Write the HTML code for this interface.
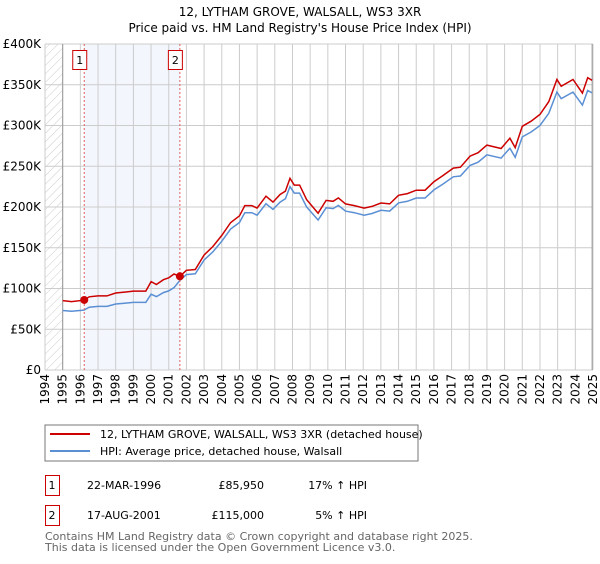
<!DOCTYPE html>
<html><head><meta charset="utf-8"><style>
body{margin:0;background:#fff;font-family:"DejaVu Sans","Liberation Sans",sans-serif;}
svg text{font-family:"DejaVu Sans","Liberation Sans",sans-serif;}
</style></head><body>
<svg id="c" width="600" height="560" xmlns="http://www.w3.org/2000/svg">
<defs><pattern id="h" width="6" height="6" patternUnits="userSpaceOnUse" patternTransform="rotate(45)"><line x1="0" y1="0" x2="0" y2="6" stroke="#ccc" stroke-width="1"/></pattern></defs>
<text x="300" y="16" text-anchor="middle" font-size="12">12, LYTHAM GROVE, WALSALL, WS3 3XR</text>
<text x="300" y="32" text-anchor="middle" font-size="12">Price paid vs. HM Land Registry's House Price Index (HPI)</text>
<g id="plot"></g>
<rect x="45" y="425" width="373" height="36" fill="#fff" stroke="#777"/>
<line x1="50" y1="434" x2="90" y2="434" stroke="#cc0000" stroke-width="2"/>
<text x="100" y="438" font-size="11">12, LYTHAM GROVE, WALSALL, WS3 3XR (detached house)</text>
<line x1="50" y1="451" x2="90" y2="451" stroke="#5b8fd4" stroke-width="2"/>
<text x="100" y="455" font-size="11">HPI: Average price, detached house, Walsall</text>
<g>
<rect x="45.5" y="475.5" width="14" height="20" fill="#fff" stroke="#cc0000"/>
<text x="52" y="489" font-size="11" text-anchor="middle">1</text>
<text x="87" y="489" font-size="11">22-MAR-1996</text>
<text x="264" y="489" font-size="11" text-anchor="end">£85,950</text>
<text x="367" y="489" font-size="11" text-anchor="end">17% ↑ HPI</text></g>
<g>
<rect x="45.5" y="505.5" width="14" height="20" fill="#fff" stroke="#cc0000"/>
<text x="52" y="519" font-size="11" text-anchor="middle">2</text>
<text x="87" y="519" font-size="11">17-AUG-2001</text>
<text x="264" y="519" font-size="11" text-anchor="end">£115,000</text>
<text x="367" y="519" font-size="11" text-anchor="end">5% ↑ HPI</text></g>
<text x="45" y="540" font-size="11" fill="#666">Contains HM Land Registry data © Crown copyright and database right 2025.</text>
<text x="45" y="551" font-size="11" fill="#666">This data is licensed under the Open Government Licence v3.0.</text>
</svg>
<script>
const yTicks=[0,50,100,150,200,250,300,350,400];
const yTickLabels=["£0","£50K","£100K","£150K","£200K","£250K","£300K","£350K","£400K"];
const years=[1994,1995,1996,1997,1998,1999,2000,2001,2002,2003,2004,2005,2006,2007,2008,2009,2010,2011,2012,2013,2014,2015,2016,2017,2018,2019,2020,2021,2022,2023,2024,2025];
const hpiDates=[1995.0,1995.5,1996.2,1996.5,1997.0,1997.5,1998.0,1998.5,1999.0,1999.7,2000.0,2000.3,2000.7,2001.0,2001.3,2001.63,2002.0,2002.5,2003.0,2003.5,2004.0,2004.5,2005.0,2005.3,2005.7,2006.0,2006.5,2006.9,2007.3,2007.6,2007.86,2008.1,2008.4,2008.8,2009.45,2009.9,2010.3,2010.6,2011.0,2011.5,2012.05,2012.5,2013.0,2013.5,2014.0,2014.5,2015.0,2015.5,2016.0,2016.5,2017.1,2017.5,2018.05,2018.5,2019.0,2019.8,2020.3,2020.6,2021.0,2021.5,2022.0,2022.5,2022.96,2023.2,2023.87,2024.4,2024.7,2024.95];
const hpiValues=[73,72,73.5,77,78,78,81,82,83,83,93,90,95,97,101,110,117,118,135,145,158,173,181,193,193,190,204,197,206,210,225,217,217,200,184,199,198,202,195,193,190,192,196,195,205,207,211,211,221,228,237,238,251,255,264,260,272,261,286,292,300,315,341,333,341,325,343,340];
const saleDates=[1996.22,2001.63];
const salePrices=[85.95,115];
const saleLabels=["1","2"];
const X0=45,X1=593,Y0=370,Y1=44;
const xs=y=>X0+(y-1994)/31*(X1-X0);
const ys=v=>Y0-v/400*(Y0-Y1);
const NS="http://www.w3.org/2000/svg";
const g=document.getElementById('plot');
function mk(t,a){const e=document.createElementNS(NS,t);for(const k in a)e.setAttribute(k,a[k]);g.appendChild(e);return e;}
let e=mk('rect',{x:X0,y:Y1,width:xs(1995)-X0,height:Y0-Y1,fill:'url(#h)'});


e=mk('rect',{x:xs(2024.95),y:Y1,width:X1-xs(2024.95),height:Y0-Y1,fill:'url(#h)'});


e=mk('rect',{x:xs(saleDates[0]),y:Y1,width:xs(saleDates[1])-xs(saleDates[0]),height:Y0-Y1,fill:'#eef3fc',opacity:0.7});


yTicks.forEach((v,i)=>{
  let l=mk('line',{x1:X0,x2:X1,y1:ys(v),y2:ys(v),stroke:'#ccc'});
  
  
  let t=mk('text',{x:X0-4,y:ys(v)+4,'text-anchor':'end','font-size':12});
  t.textContent=yTickLabels[i];
  
  
});
years.forEach(yr=>{
  let l=mk('line',{x1:xs(yr),x2:xs(yr),y1:Y1,y2:Y0,stroke:'#ccc'});
  
  
  let t=mk('text',{x:0,y:0,'text-anchor':'end','font-size':12,transform:`translate(${xs(yr)+4},${Y0+4}) rotate(-90)`});
  t.textContent=yr;
  
  
});
e=mk('line',{x1:xs(1995),x2:xs(1995),y1:Y1,y2:Y0,stroke:'#999'});


e=mk('line',{x1:xs(2024.95),x2:xs(2024.95),y1:Y1,y2:Y0,stroke:'#999'});


function interp(d){for(let i=1;i<hpiDates.length;i++){if(d<=hpiDates[i]){const f=(d-hpiDates[i-1])/(hpiDates[i]-hpiDates[i-1]);return hpiValues[i-1]+f*(hpiValues[i]-hpiValues[i-1]);}}return hpiValues[hpiValues.length-1];}
const r0=salePrices[0]/interp(saleDates[0]), r1=salePrices[1]/interp(saleDates[1]);
let bp='',rp='';
hpiDates.forEach((d,i)=>{
  const v=hpiValues[i];
  bp+=(i?'L':'M')+xs(d).toFixed(1)+','+ys(v).toFixed(1);
  const rv=v*(d<saleDates[1]?r0:r1);
  rp+=(i?'L':'M')+xs(d).toFixed(1)+','+ys(rv).toFixed(1);
});
e=mk('path',{d:bp,fill:'none',stroke:'#5b8fd4','stroke-width':1.5});


e=mk('path',{d:rp,fill:'none',stroke:'#cc0000','stroke-width':1.5});


saleDates.forEach((d,i)=>{
  let l=mk('line',{x1:xs(d),x2:xs(d),y1:Y1,y2:Y0,stroke:'#e06060','stroke-dasharray':'2,2'});
  
  
  let c=mk('circle',{cx:xs(d),cy:ys(salePrices[i]),r:4,fill:'#cc0000'});
  
  
  let b=mk('rect',{x:xs(d)-11.5,y:50.5,width:14,height:19,fill:'#fff',stroke:'#cc0000'});
  
  
  let t=mk('text',{x:xs(d)-4.5,y:64,'text-anchor':'middle','font-size':11});
  t.textContent=saleLabels[i];
  
  
});
</script>
</body></html>
